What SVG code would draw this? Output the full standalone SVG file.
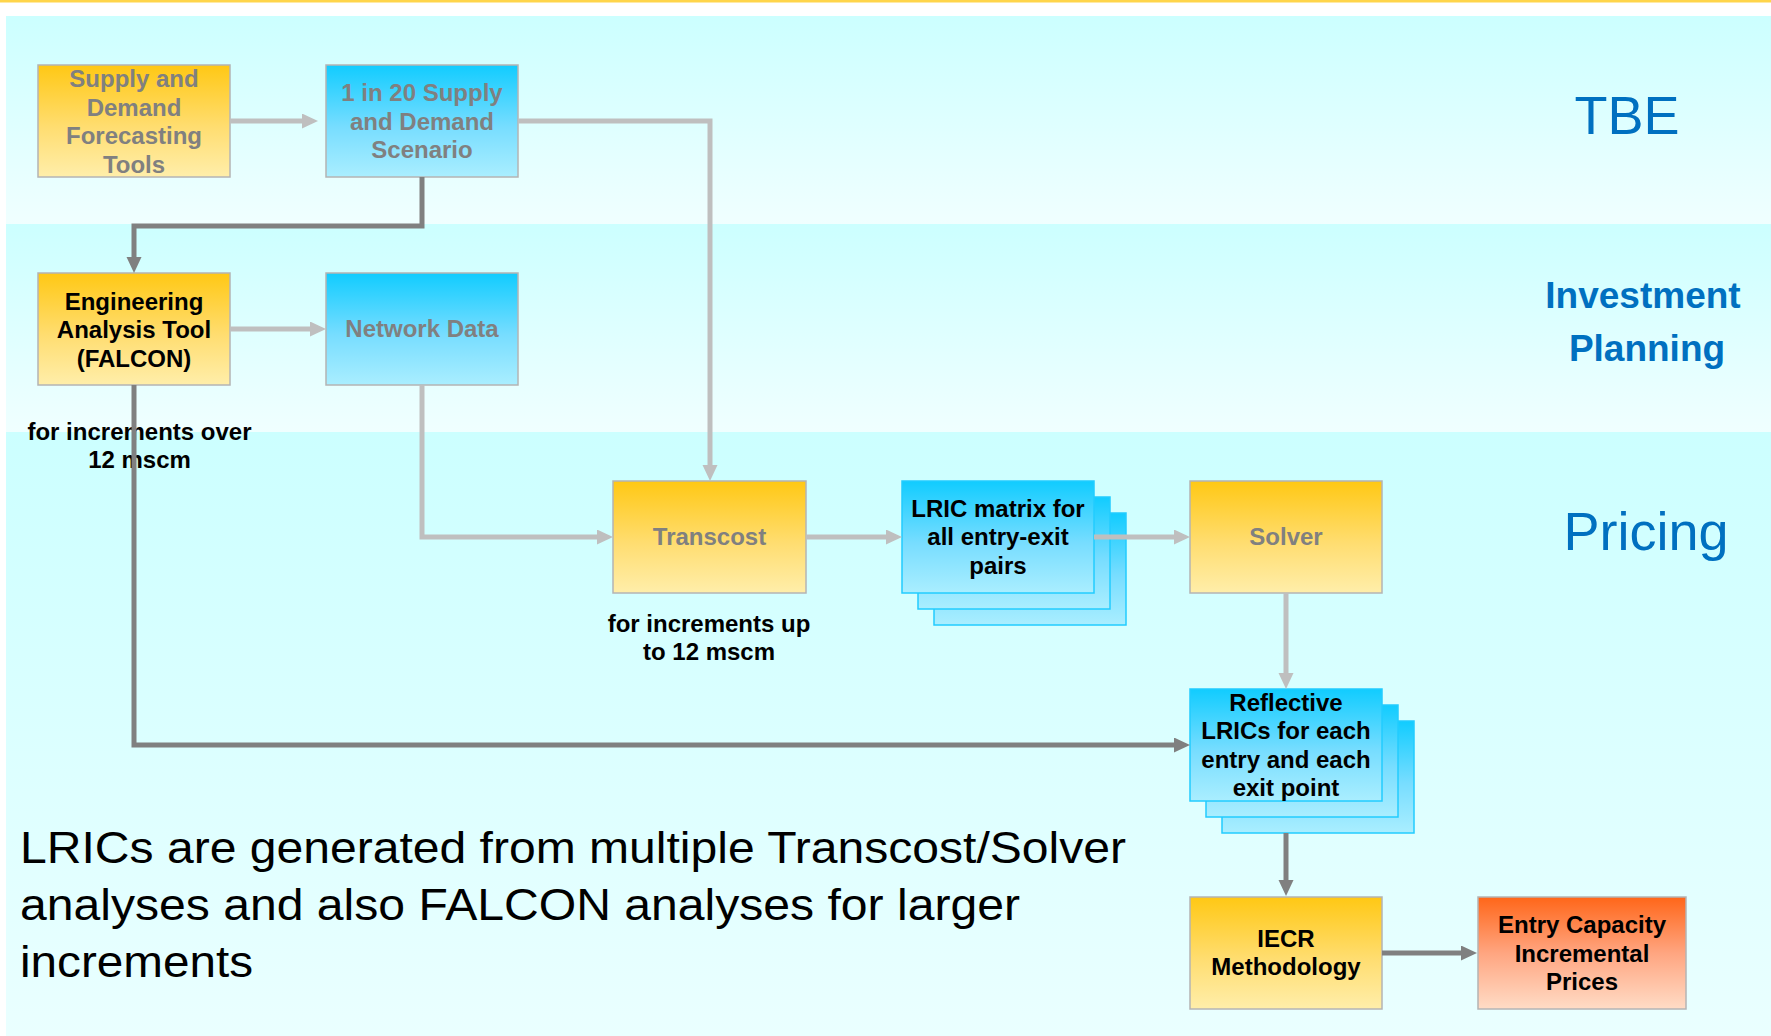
<svg xmlns="http://www.w3.org/2000/svg" width="1771" height="1036" viewBox="0 0 1771 1036">
<defs>
<linearGradient id="band" x1="0" y1="0" x2="0" y2="1"><stop offset="0" stop-color="#CCFFFF"/><stop offset="1" stop-color="#F0FFFF"/></linearGradient>
<linearGradient id="band3" x1="0" y1="0" x2="0" y2="1"><stop offset="0" stop-color="#CCFFFF"/><stop offset="1" stop-color="#EAFFFF"/></linearGradient>
<linearGradient id="gy" x1="0" y1="0" x2="0" y2="1"><stop offset="0" stop-color="#FFC814"/><stop offset="0.55" stop-color="#FFDD70"/><stop offset="1" stop-color="#FFEEAA"/></linearGradient>
<linearGradient id="gb" x1="0" y1="0" x2="0" y2="1"><stop offset="0" stop-color="#11CCFF"/><stop offset="0.55" stop-color="#77DDFF"/><stop offset="1" stop-color="#AAEEFF"/></linearGradient>
<linearGradient id="go" x1="0" y1="0" x2="0" y2="1"><stop offset="0" stop-color="#FF6619"/><stop offset="0.5" stop-color="#FFA580"/><stop offset="1" stop-color="#FFDCC6"/></linearGradient>
<marker id="al" markerUnits="userSpaceOnUse" markerWidth="16" markerHeight="16" refX="0" refY="7.5" orient="auto"><path d="M0,0 L16,7.5 L0,15 z" fill="#BFBFBF"/></marker>
<marker id="ad" markerUnits="userSpaceOnUse" markerWidth="16" markerHeight="16" refX="0" refY="7.5" orient="auto"><path d="M0,0 L16,7.5 L0,15 z" fill="#808080"/></marker>
</defs>
<style>
.box{stroke:#B4B4B4;stroke-width:1.5}
.card{stroke:#22CCFF;stroke-width:1.5;fill:url(#gb)}
.t{font-family:"Liberation Sans",Arial,sans-serif;font-weight:bold;font-size:24px;text-anchor:middle}
.g{fill:#808080}
.k{fill:#000000}
.lite{fill:none;stroke:#BFBFBF;stroke-width:5;marker-end:url(#al)}
.dark{fill:none;stroke:#808080;stroke-width:5;marker-end:url(#ad)}
.side{font-family:"Liberation Sans",Arial,sans-serif;fill:#0070C0;text-anchor:middle}
.big{font-family:"Liberation Sans",Arial,sans-serif;font-size:44px;fill:#000000}
</style>
<rect x="0" y="0" width="1771" height="1036" fill="#FFFFFF"/>
<rect x="0" y="0" width="1771" height="2.5" fill="#FFD54A"/>
<g id="bands">
<rect x="6" y="16" width="1765" height="208" fill="url(#band)"/>
<rect x="6" y="224" width="1765" height="208" fill="url(#band)"/>
<rect x="6" y="432" width="1765" height="604" fill="url(#band3)"/>
</g>
<g id="lane-labels">
<text class="side" x="1627" y="134" font-size="54">TBE</text>
<text class="side" x="1643" y="308" font-size="37" font-weight="bold">Investment</text>
<text class="side" x="1647" y="361" font-size="37" font-weight="bold">Planning</text>
<text class="side" x="1646" y="550" font-size="54">Pricing</text>
</g>
<g id="supply">
<rect class="box" x="38" y="65" width="192" height="112" fill="url(#gy)"/>
<text class="t g" x="134" y="87">Supply and<tspan x="134" dy="28.5">Demand</tspan><tspan x="134" dy="28.5">Forecasting</tspan><tspan x="134" dy="28.5">Tools</tspan></text>
</g>
<g id="scenario">
<rect class="box" x="326" y="65" width="192" height="112" fill="url(#gb)"/>
<text class="t g" x="422" y="101">1 in 20 Supply<tspan x="422" dy="28.5">and Demand</tspan><tspan x="422" dy="28.5">Scenario</tspan></text>
</g>
<g id="falcon">
<rect class="box" x="38" y="273" width="192" height="112" fill="url(#gy)"/>
<text class="t k" x="134" y="309.5">Engineering<tspan x="134" dy="28.5">Analysis Tool</tspan><tspan x="134" dy="28.5">(FALCON)</tspan></text>
</g>
<g id="network">
<rect class="box" x="326" y="273" width="192" height="112" fill="url(#gb)"/>
<text class="t g" x="422" y="337">Network Data</text>
</g>
<g id="transcost">
<rect class="box" x="613" y="481" width="193" height="112" fill="url(#gy)"/>
<text class="t g" x="709.5" y="545">Transcost</text>
</g>
<g id="lric-matrix">
<rect class="card" x="934" y="513" width="192" height="112"/>
<rect class="card" x="918" y="497" width="192" height="112"/>
<rect class="card" x="902" y="481" width="192" height="112"/>
<text class="t k" x="998" y="516.5">LRIC matrix for<tspan x="998" dy="28.5">all entry-exit</tspan><tspan x="998" dy="28.5">pairs</tspan></text>
</g>
<g id="solver">
<rect class="box" x="1190" y="481" width="192" height="112" fill="url(#gy)"/>
<text class="t g" x="1286" y="545">Solver</text>
</g>
<g id="reflective">
<rect class="card" x="1222" y="721" width="192" height="112"/>
<rect class="card" x="1206" y="705" width="192" height="112"/>
<rect class="card" x="1190" y="689" width="192" height="112"/>
<text class="t k" x="1286" y="710.5">Reflective<tspan x="1286" dy="28.5">LRICs for each</tspan><tspan x="1286" dy="28.5">entry and each</tspan><tspan x="1286" dy="28.5">exit point</tspan></text>
</g>
<g id="iecr">
<rect class="box" x="1190" y="897" width="192" height="112" fill="url(#gy)"/>
<text class="t k" x="1286" y="947">IECR<tspan x="1286" dy="28">Methodology</tspan></text>
</g>
<g id="entry-prices">
<rect class="box" x="1478" y="897" width="208" height="112" fill="url(#go)"/>
<text class="t k" x="1582" y="933">Entry Capacity<tspan x="1582" dy="28.5">Incremental</tspan><tspan x="1582" dy="28.5">Prices</tspan></text>
</g>
<g id="labels">
<text class="t k" x="139.5" y="440">for increments over<tspan x="139.5" dy="28">12 mscm</tspan></text>
<text class="t k" x="709" y="632">for increments up<tspan x="709" dy="28">to 12 mscm</tspan></text>
</g>
<g id="connectors">
<path class="lite" d="M230,121 H302"/>
<path class="lite" d="M518,121 H710 V465"/>
<path class="dark" d="M422,177 V226 H134 V257"/>
<path class="lite" d="M230,329 H310"/>
<path class="lite" d="M422,385 V537 H597"/>
<path class="lite" d="M806,537 H886"/>
<path class="lite" d="M1094,537 H1174"/>
<path class="lite" d="M1286,593 V673"/>
<path class="dark" d="M134,385 V745 H1174"/>
<path class="dark" d="M1286,833 V880"/>
<path class="dark" d="M1382,953 H1461"/>
</g>
<g id="note">
<text class="big" x="20" y="863" textLength="1106" lengthAdjust="spacingAndGlyphs">LRICs are generated from multiple Transcost/Solver</text>
<text class="big" x="20" y="920" textLength="1000" lengthAdjust="spacingAndGlyphs">analyses and also FALCON analyses for larger</text>
<text class="big" x="20" y="977" textLength="233" lengthAdjust="spacingAndGlyphs">increments</text>
</g>
</svg>
